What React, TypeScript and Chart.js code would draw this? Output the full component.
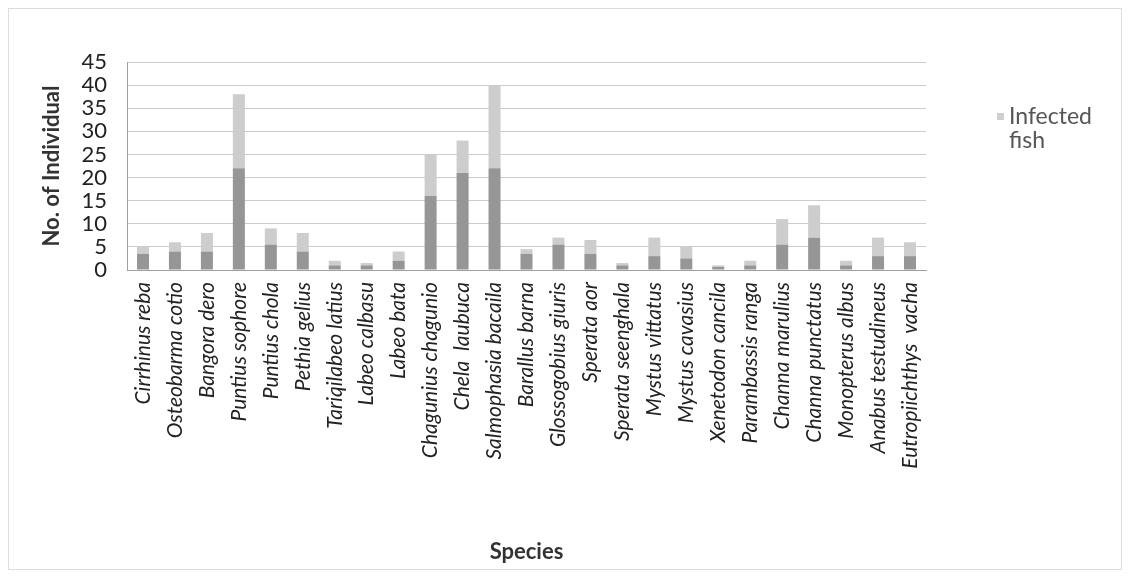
import React, { useEffect, useRef } from "react";
import { Chart, registerables } from "chart.js";

Chart.register(...registerables);

const species = [
  "Cirrhinus reba",
  "Osteobarma cotio",
  "Bangora dero",
  "Puntius sophore",
  "Puntius chola",
  "Pethia gelius",
  "Tariqilabeo latius",
  "Labeo calbasu",
  "Labeo bata",
  "Chagunius chagunio",
  "Chela  laubuca",
  "Salmophasia bacaila",
  "Barallus barna",
  "Glossogobius giuris",
  "Sperata aor",
  "Sperata seenghala",
  "Mystus vittatus",
  "Mystus cavasius",
  "Xenetodon cancila",
  "Parambassis ranga",
  "Channa marulius",
  "Channa punctatus",
  "Monopterus albus",
  "Anabus testudineus",
  "Eutropiichthys  vacha",
];

// lower (darker) segment of each bar
const lowerSegment = [3.5, 4, 4, 22, 5.5, 4, 1, 1, 2, 16, 21, 22, 3.5, 5.5, 3.5, 1, 3, 2.5, 0.7, 1, 5.5, 7, 1, 3, 3];
// upper (lighter) segment: infected fish
const infectedFish = [1.5, 2, 4, 16, 3.5, 4, 1, 0.5, 2, 9, 7, 18, 1, 1.5, 3, 0.5, 4, 2.5, 0.3, 1, 5.5, 7, 1, 4, 3];

const yTicks = [0, 5, 10, 15, 20, 25, 30, 35, 40, 45];

const legendPlugin = {
  id: "customLegend",
  afterDraw(chart: any) {
    const ctx = chart.ctx;
    ctx.save();
    ctx.fillStyle = "#cfcfcf";
    ctx.fillRect(988, 104, 7, 7);
    ctx.fillStyle = "#555555";
    ctx.font = "23px Lato";
    ctx.textBaseline = "middle";
    ctx.textAlign = "left";
    ctx.fillText("Infected", 1000, 108);
    ctx.fillText("fish", 1000, 132);
    ctx.restore();
  },
};

export default function App() {
  const ref = useRef<HTMLCanvasElement | null>(null);

  useEffect(() => {
    if (!ref.current) return;
    const chart = new Chart(ref.current, {
      type: "bar",
      data: {
        labels: species,
        datasets: [
          {
            label: "Other fish",
            data: lowerSegment,
            backgroundColor: "#969696",
            barPercentage: 0.47,
            categoryPercentage: 0.8,
          },
          {
            label: "Infected fish",
            data: infectedFish,
            backgroundColor: "#cdcdcd",
            barPercentage: 0.47,
            categoryPercentage: 0.8,
          },
        ],
      },
      options: {
        animation: false,
        responsive: false,
        layout: { padding: { left: 26, right: 195, top: 53, bottom: 0 } },
        plugins: {
          legend: { display: false },
          tooltip: { enabled: false },
        },
        scales: {
          x: {
            stacked: true,
            grid: { display: false, drawTicks: false },
            border: { display: true, color: "#a0a0a0" },
            ticks: {
              autoSkip: false,
              maxRotation: 90,
              minRotation: 90,
              padding: 12,
              color: "#222222",
              font: { family: "Lato", size: 21, style: "italic" },
            },
            title: {
              display: true,
              text: "Species",
              color: "#333333",
              font: { family: "Lato", size: 22, weight: "bold" },
            },
            afterFit: (scale: any) => {
              scale.height = 299;
            },
          },
          y: {
            stacked: true,
            min: 0,
            max: 45,
            afterBuildTicks: (scale: any) => {
              scale.ticks = yTicks.map((v) => ({ value: v }));
            },
            grid: { color: "#cccccc", drawTicks: false },
            border: { display: true, color: "#a0a0a0" },
            ticks: {
              autoSkip: false,
              stepSize: 5,
              padding: 20,
              color: "#222222",
              font: { family: "Lato", size: 22 },
            },
            title: {
              display: true,
              text: "No. of Individual",
              color: "#333333",
              font: { family: "Lato", size: 22, weight: "bold" },
            },
            afterFit: (scale: any) => {
              scale.width = 92;
            },
          },
        },
      },
      plugins: [legendPlugin],
    });
    return () => chart.destroy();
  }, []);

  return (
    <div
      style={{
        width: 1112,
        height: 560,
        border: "1px solid #dddddd",
        background: "#ffffff",
      }}
    >
      <canvas ref={ref} width={1112} height={560} style={{ display: "block" }} />
    </div>
  );
}
